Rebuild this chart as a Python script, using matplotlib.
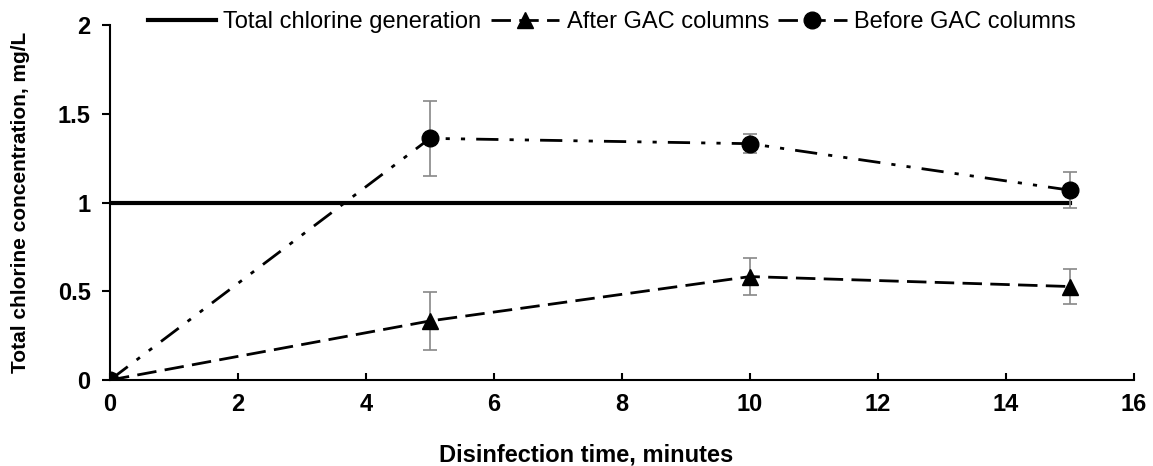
import matplotlib.pyplot as plt
from matplotlib.lines import Line2D

plt.rcParams['font.family'] = ['Liberation Sans', 'DejaVu Sans']

time_min = [0, 5, 10, 15]
total_gen = [1, 1, 1, 1]
after_gac = [0, 0.333, 0.583, 0.527]
after_err = [0, 0.165, 0.104, 0.098]
before_gac = [0, 1.362, 1.332, 1.07]
before_err = [0, 0.21, 0.053, 0.1]

after_dash = (7, 3)
before_dash = (8, 4, 1.5, 4, 1.5, 4)

fig = plt.figure(figsize=(11.53, 4.66), dpi=100)
ax = fig.add_axes([0.0954, 0.1845, 0.888, 0.7615])

ax.plot(time_min, total_gen, color='black', lw=3)
ax.errorbar(time_min, after_gac, yerr=after_err, color='black', lw=2,
            dashes=after_dash, marker='^', ms=12, ecolor='#888888', elinewidth=1.2,
            capsize=5, capthick=1.2)
ax.errorbar(time_min, before_gac, yerr=before_err, color='black', lw=2,
            dashes=before_dash, marker='o', ms=12, ecolor='#888888',
            elinewidth=1.2, capsize=5, capthick=1.2)

ax.set_xlim(0, 16)
ax.set_ylim(0, 2)
ax.set_xticks(range(0, 17, 2))
ax.set_yticks([0, 0.5, 1, 1.5, 2])
ax.set_yticklabels(['0', '0.5', '1', '1.5', '2'])
ax.spines['top'].set_visible(False)
ax.spines['right'].set_visible(False)
ax.spines['left'].set_linewidth(1.5)
ax.spines['bottom'].set_linewidth(1.5)
ax.tick_params(axis='x', direction='in', length=5, width=1.5, pad=9)
ax.tick_params(axis='y', direction='out', length=6, width=1.5, pad=8)
for lab in ax.get_xticklabels() + ax.get_yticklabels():
    lab.set_fontsize(17)
    lab.set_fontweight('bold')

ax.set_xlabel('Disinfection time, minutes', fontsize=17, fontweight='bold')
ax.xaxis.set_label_coords(0.465, -0.178)
ax.set_ylabel('Total chlorine concentration, mg/L', fontsize=15, fontweight='bold')
ax.yaxis.set_label_coords(-0.078, 0.5)

handles = [
    Line2D([], [], color='black', lw=3),
    Line2D([], [], color='black', lw=2, dashes=after_dash, marker='^', ms=12),
    Line2D([], [], color='black', lw=2, dashes=(7, 3), marker='o', ms=12),
]
labels = ['Total chlorine generation', 'After GAC columns', 'Before GAC columns']
ax.legend(handles, labels, loc='center', bbox_to_anchor=(0.49, 1.008), ncol=3,
          frameon=False, fontsize=17, handlelength=2.9, handletextpad=0.3,
          columnspacing=0.4, borderpad=0)

fig.savefig('out.png', dpi=100)
